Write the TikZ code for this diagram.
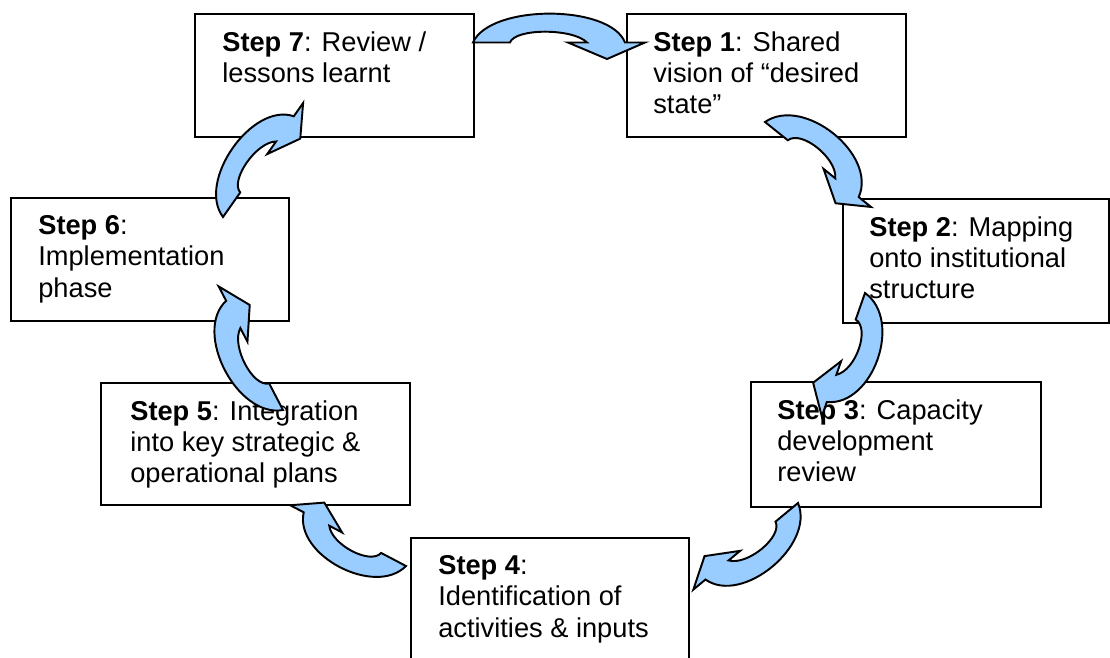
\documentclass[tikz,border=0pt]{standalone}
\usepackage{fontspec}
\setmainfont{Liberation Sans}
\usetikzlibrary{calc}
\definecolor{pfeilblau}{RGB}{153,204,255}
\tikzset{
  kasten/.style={draw, line width=1.1pt, fill=white, anchor=north west, inner sep=0pt},
  schrift/.style={anchor=north west, align=left, inner sep=0pt,
    font=\fontsize{15.5}{17.9}\selectfont},
  pfeil/.style={draw, line width=1.1pt, fill=pfeilblau}
}
% Bogenpfeil: #1 Fusspunkt, #2 Drehung, #3 Laenge, #4 Hoehe
\newcommand\bogenpfeil[4]{%
  \begin{scope}[shift={(#1)}, rotate=#2, xscale=#3, yscale=#4]
    \draw[pfeil] (0,0) .. controls (17,-38.5) and (137,-38.5) .. (152,0)
      -- (172,0) -- (134,16.5) -- (95,0) -- (114,0)
      .. controls (100,-14.4) and (42,-14.4) .. (37,0) -- cycle;
  \end{scope}}
\begin{document}
\begin{tikzpicture}[x=0.02cm, y=-0.02cm]
\useasboundingbox (0,0) rectangle (1110,657);
\clip (0,0) rectangle (1110,657);
% Kaesten (Pixelmass, y nach unten)
\node[kasten, minimum width=5.58cm, minimum height=2.46cm] (s7) at (194,13) {};
\node[kasten, minimum width=5.58cm, minimum height=2.46cm] (s1) at (626,13) {};
\node[kasten, minimum width=5.32cm, minimum height=2.48cm] (s2) at (842,198) {};
\node[kasten, minimum width=5.80cm, minimum height=2.50cm] (s3) at (750,381) {};
\node[kasten, minimum width=5.56cm, minimum height=2.60cm] (s4) at (410,537) {};
\node[kasten, minimum width=6.18cm, minimum height=2.44cm] (s5) at (100,382) {};
\node[kasten, minimum width=5.56cm, minimum height=2.46cm] (s6) at (10,197) {};
% Texte
\node[schrift] (t7) at ($(s7.north west)+(28,18)$) {\textbf{Step 7}: Review /\\lessons learnt};
\node[schrift] (t1) at ($(s1.north west)+(27,18)$) {\textbf{Step 1}: Shared\\vision of “desired\\state”};
\node[schrift] (t2) at ($(s2.north west)+(27,18)$) {\textbf{Step 2}: Mapping\\onto institutional\\structure};
\node[schrift] (t3) at ($(s3.north west)+(27,18)$) {\textbf{Step 3}: Capacity\\development\\review};
\node[schrift] (t4) at ($(s4.north west)+(28,18)$) {\textbf{Step 4}:\\Identification of\\activities \& inputs};
\node[schrift] (t5) at ($(s5.north west)+(30,18)$) {\textbf{Step 5}: Integration\\into key strategic \&\\operational plans};
\node[schrift] (t6) at ($(s6.north west)+(28,18)$) {\textbf{Step 6}:\\Implementation\\phase};
% Fusspunkte der Pfeile
\coordinate (p71) at (473,42.5);
\coordinate (p12) at (765,122);
\coordinate (p23) at (865,293);
\coordinate (p34) at (798,503);
\coordinate (p45) at (406,566);
\coordinate (p56) at (283,410);
\coordinate (p67) at (223,217);
% Pfeile
\bogenpfeil{p71}{0}{1}{1}
\bogenpfeil{p12}{-38.7}{0.79}{1.17}
\bogenpfeil{p23}{-109.3}{0.76}{1.17}
\bogenpfeil{p34}{-140.4}{0.79}{1.13}
\bogenpfeil{p45}{152.3}{0.76}{1.1}
\bogenpfeil{p56}{117.5}{0.81}{1.15}
\bogenpfeil{p67}{54.9}{0.81}{1.1}
\end{tikzpicture}
\end{document}
